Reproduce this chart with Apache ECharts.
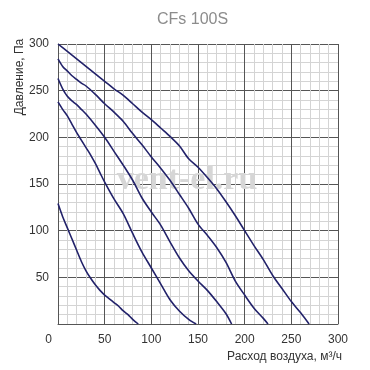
<!DOCTYPE html>
<html>
<head>
<meta charset="utf-8">
<script src="https://cdn.jsdelivr.net/npm/echarts@6/dist/echarts.min.js"></script>
<style>
html, body { margin: 0; padding: 0; background: #fff; }
#chart { width: 370px; height: 370px; }
</style>
</head>
<body>
<div id="chart"></div>
<script>
var xTicks = [0, 50, 100, 150, 200, 250, 300];
var yTicks = [0, 50, 100, 150, 200, 250, 300];

// кривые вентилятора: [расход, давление]
var curveA = [[0,129],[5,115],[10,103],[15,91],[20,79],[25,67],[30,57],[35,49],[40,42],[45,36],[50,31],[55,27],[60,23],[65,19],[70,14],[75,10],[80,5],[86,0]];
var curveB = [[0,238],[5,230],[10,223],[15,214],[20,205],[25,197],[30,189],[35,181],[40,172],[45,162],[50,152],[60,134],[70,118],[80,97],[90,77],[100,60],[110,43],[120,26],[130,14],[140,5],[148,0]];
var curveC = [[0,263],[5,252],[10,244],[15,239],[20,235],[25,230],[30,225],[40,213],[50,200],[60,185],[70,170],[80,154],[90,135],[100,120],[110,106],[120,88],[130,71],[140,57],[150,46],[160,36],[170,24],[180,11],[186,0]];
var curveD = [[0,284],[5,276],[10,271],[15,266],[20,262],[25,258],[30,255],[40,246],[50,236],[60,227],[70,217],[80,204],[90,192],[100,179],[110,167],[120,154],[130,139],[140,124],[150,107],[160,95],[170,82],[180,66],[190,46],[200,31],[210,17],[220,6],[225,0]];
var curveE = [[0,300],[10,292],[20,284],[30,276],[40,268],[50,260],[60,252],[70,245],[80,236],[90,227],[100,219],[110,210],[120,201],[130,191],[140,177],[150,168],[160,157],[170,145],[180,131],[190,116],[200,100],[210,84],[220,69],[230,52],[240,38],[250,24],[260,12],[269,0]];

var curves = [curveA, curveB, curveC, curveD, curveE];

var chart = echarts.init(document.getElementById('chart'));

var series = curves.map(function(c) {
	return {
		type: 'line',
		data: c,
		smooth: 0.3,
		symbol: 'none',
		lineStyle: { color: '#22226a', width: 1.6 },
		z: 5
	};
});

var option = {
	animation: false,
	backgroundColor: '#fff',
	title: {
		text: 'CFs 100S',
		left: 152,
		top: 7,
		textStyle: { fontFamily: 'Liberation Sans', fontSize: 16, fontWeight: 'normal', color: '#8c8c8c' }
	},
	grid: { left: 58, right: 32, top: 44, bottom: 46 },
	xAxis: {
		type: 'value',
		min: xTicks[0],
		max: xTicks[xTicks.length - 1],
		interval: 50,
		axisLine: { show: true, lineStyle: { color: '#555', width: 1 } },
		axisTick: { show: false },
		axisLabel: {
			margin: 10,
			fontFamily: 'Liberation Sans',
			fontSize: 12,
			color: '#333',
			formatter: function(v) { return v === 0 ? '{z|0}' : String(v); },
			rich: { z: { padding: [0, 19, 0, 0], fontFamily: 'Liberation Sans', fontSize: 12, color: '#333' } }
		},
		splitLine: { show: true, lineStyle: { color: '#555', width: 1 } },
		minorTick: { show: false, splitNumber: 5 },
		minorSplitLine: { show: true, lineStyle: { color: '#d4d4d4', width: 1 } }
	},
	yAxis: {
		type: 'value',
		min: yTicks[0],
		max: yTicks[yTicks.length - 1],
		interval: 50,
		axisLine: { show: true, lineStyle: { color: '#555', width: 1 } },
		axisTick: { show: false },
		axisLabel: {
			margin: 9,
			fontFamily: 'Liberation Sans',
			fontSize: 12,
			color: '#333',
			formatter: function(v) { return v === 0 ? '' : String(v); }
		},
		splitLine: { show: true, lineStyle: { color: '#555', width: 1 } },
		minorTick: { show: false, splitNumber: 5 },
		minorSplitLine: { show: true, lineStyle: { color: '#d4d4d4', width: 1 } }
	},
	graphic: [
		{
			type: 'text',
			x: 20,
			y: 77,
			rotation: Math.PI / 2,
			style: {
				text: 'Давление, Па',
				fontFamily: 'Liberation Sans',
				fontSize: 12,
				fill: '#333',
				align: 'center',
				verticalAlign: 'middle'
			}
		},
		{
			type: 'text',
			x: 342,
			y: 357,
			style: {
				text: 'Расход воздуха, м³/ч',
				fontFamily: 'Liberation Sans',
				fontSize: 12,
				fill: '#333',
				align: 'right',
				verticalAlign: 'middle'
			}
		},
		{
			type: 'text',
			x: 187,
			y: 180,
			z: 4,
			style: {
				text: 'vent-el.ru',
				fontFamily: 'Liberation Serif',
				fontWeight: 'bold',
				fontSize: 34,
				fill: '#d6d6d6',
				align: 'center',
				verticalAlign: 'middle'
			}
		}
	],
	series: series
};

chart.setOption(option);
</script>
</body>
</html>
